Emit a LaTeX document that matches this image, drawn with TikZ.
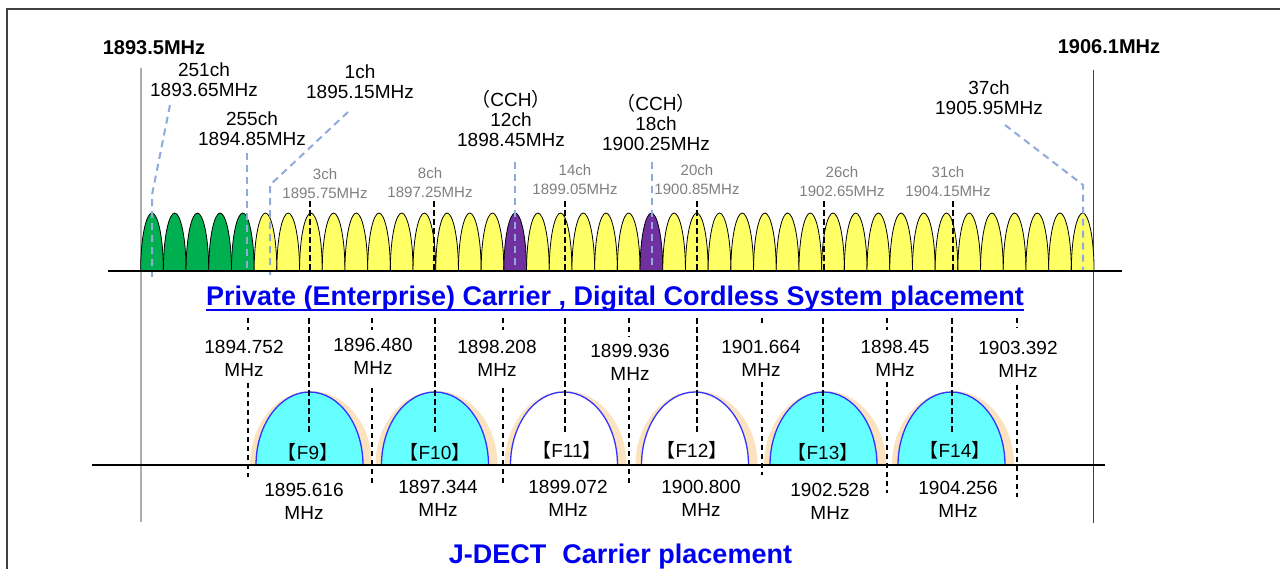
\documentclass[tikz,border=0pt]{standalone}
\usepackage{fontspec}
\usepackage{graphicx}
\setmainfont{Liberation Sans}
\newfontfamily\cjk{Noto Sans CJK JP}
\definecolor{hgreen}{HTML}{00B050}
\definecolor{hyellow}{HTML}{FFFF66}
\definecolor{hpurple}{HTML}{7030A0}
\definecolor{hcyan}{HTML}{66FFFF}
\definecolor{hblue}{HTML}{3333FF}
\definecolor{tblue}{HTML}{0000F0}
\definecolor{dashblue}{HTML}{8FAADC}
\definecolor{beige}{HTML}{FBE3C0}
\definecolor{glabel}{HTML}{7F7F7F}
\definecolor{framegray}{HTML}{404040}
\tikzset{
  lbl/.style={font=\fontsize{19}{20}\selectfont, align=center, inner sep=0pt},
  lbllow/.style={font=\fontsize{19}{23}\selectfont, align=center, inner sep=0pt},
  glbl/.style={font=\fontsize{15}{19}\selectfont, text=glabel, align=center, inner sep=0pt},
  edgelbl/.style={font=\bfseries\fontsize{20}{22}\selectfont, inner sep=0pt},
  bdash/.style={draw=dashblue, line width=2pt, dash pattern=on 7pt off 5pt},
  kdash/.style={draw=black, line width=2.5pt, dash pattern=on 6pt off 3pt},
  thindash/.style={draw=black, line width=1.5pt, dash pattern=on 5pt off 4pt},
  base/.style={draw=black, line width=2pt},
  title/.style={font=\bfseries\fontsize{27}{30}\selectfont, text=tblue, inner sep=0pt}
}
\begin{document}
\begin{tikzpicture}[x=1pt,y=-1pt]
\useasboundingbox (0,0) rectangle (1280,569);
% frame
\draw[framegray, line width=1.8pt] (7,569) -- (7,9) -- (1280,9);
% range lines
\draw[gray!65, line width=1.5pt] (141,68) -- (141,522);
\draw[darkgray, line width=1pt] (1093,70) -- (1093,523);
% top humps
\foreach \k in {0,...,41}{
  \pgfmathsetmacro\c{152+22.7*\k}
  \def\hc{hyellow}
  \ifnum\k<5 \def\hc{hgreen}\fi
  \ifnum\k=16 \def\hc{hpurple}\fi
  \ifnum\k=22 \def\hc{hpurple}\fi
  \filldraw[fill=\hc, draw=black, line width=0.8pt] (\c-11.35,271) .. controls (\c-11.35,236) and (\c-5.5,213) .. (\c,213) .. controls (\c+5.5,213) and (\c+11.35,236) .. (\c+11.35,271);
}
% blue dashed pointers
\draw[bdash] (170,105) -- (152,195) -- (152,277);
\draw[bdash] (247,153) -- (247,271);
\draw[bdash] (348,112) -- (270,185) -- (270,275);
\draw[bdash] (515,162) -- (515,271);
\draw[bdash] (652,162) -- (652,271);
\draw[bdash] (1005,125) -- (1083,185) -- (1083,271);
% black dashed top
\foreach \x in {310,434,565,697,824,953}{
  \draw[kdash] (\x,201) -- (\x,271);
}
\draw[base] (108,271) -- (1122,271);
% top labels
\node[edgelbl] (lo) at (154,48) {1893.5MHz};
\node[edgelbl] (hi) at (1109,47) {1906.1MHz};
\node[lbl] (c251) at (204,80) {251ch\\1893.65MHz};
\node[lbl] (c255) at (252,128.5) {255ch\\1894.85MHz};
\node[lbl] (c1) at (360,81.5) {1ch\\1895.15MHz};
\node[lbl] (c12) at (511,118) {{\cjk （}CCH{\cjk ）}\\12ch\\1898.45MHz};
\node[lbl] (c18) at (656,122) {{\cjk （}CCH{\cjk ）}\\18ch\\1900.25MHz};
\node[lbl] (c37) at (989,98) {37ch\\1905.95MHz};
\node[glbl] (g3) at (325,183.5) {3ch\\1895.75MHz};
\node[glbl] (g8) at (430,183) {8ch\\1897.25MHz};
\node[glbl] (g14) at (575,180) {14ch\\1899.05MHz};
\node[glbl] (g20) at (697,180) {20ch\\1900.85MHz};
\node[glbl] (g26) at (842,182) {26ch\\1902.65MHz};
\node[glbl] (g31) at (948,182) {31ch\\1904.15MHz};
% title
\node[title, anchor=base] (t1) at (615,306) {Private (Enterprise) Carrier , Digital Cordless System placement};
\draw[tblue, line width=1.5pt] ([yshift=-4pt]t1.base west) -- ([yshift=-4pt]t1.base east);
% lower arches
\foreach \c/\f in {309.5/hcyan,435/hcyan,564/white,695/white,823.5/hcyan,951.5/hcyan}{
  \fill[beige] (\c-59.5,465) arc[start angle=-180, end angle=0, x radius=61, y radius=74] -- cycle;
  \filldraw[fill=\f, draw=hblue, line width=1.3pt] (\c-53.5,465) arc[start angle=-180, end angle=0, x radius=53.5, y radius=73];
}
% center dashes lower
\foreach \x in {309,435,565,697,823,952}{
  \draw[kdash] (\x,318) -- (\x,434);
}
% boundary dashes lower
\foreach \x/\a/\b/\e in {248/330/383/477,372/330/388/483,503/330/388/483,629/337/388/483,762/326/382/475,887/330/382/493,1017/328/385/497}{
  \draw[thindash] (\x,318) -- (\x,\a);
  \draw[thindash] (\x,\b) -- (\x,\e);
}
\draw[base] (92,465) -- (1105,465);
% arch labels
\node[lbl] (f9) at (308,452) {{\cjk 【}F9{\cjk 】}};
\node[lbl] (f10) at (435,452) {{\cjk 【}F10{\cjk 】}};
\node[lbl] (f11) at (567,450) {{\cjk 【}F11{\cjk 】}};
\node[lbl] (f12) at (692,450) {{\cjk 【}F12{\cjk 】}};
\node[lbl] (f13) at (823,452) {{\cjk 【}F13{\cjk 】}};
\node[lbl] (f14) at (955,450) {{\cjk 【}F14{\cjk 】}};
% lower top labels
\node[lbllow] (b1) at (244,358.5) {1894.752\\MHz};
\node[lbllow] (b2) at (373,356) {1896.480\\MHz};
\node[lbllow] (b3) at (497,358) {1898.208\\MHz};
\node[lbllow] (b4) at (630,362.5) {1899.936\\MHz};
\node[lbllow] (b5) at (761,358) {1901.664\\MHz};
\node[lbllow] (b6) at (895,358) {1898.45\\MHz};
\node[lbllow] (b7) at (1018,359) {1903.392\\MHz};
% bottom labels
\node[lbllow] (m1) at (304,501) {1895.616\\MHz};
\node[lbllow] (m2) at (438,498.5) {1897.344\\MHz};
\node[lbllow] (m3) at (568,498.5) {1899.072\\MHz};
\node[lbllow] (m4) at (701,498.5) {1900.800\\MHz};
\node[lbllow] (m5) at (830,501.5) {1902.528\\MHz};
\node[lbllow] (m6) at (958,499) {1904.256\\MHz};
% bottom title
\node[title, anchor=base] (t2) at (620.5,563) {J-DECT\hspace{16pt}Carrier placement};
\end{tikzpicture}
\end{document}
